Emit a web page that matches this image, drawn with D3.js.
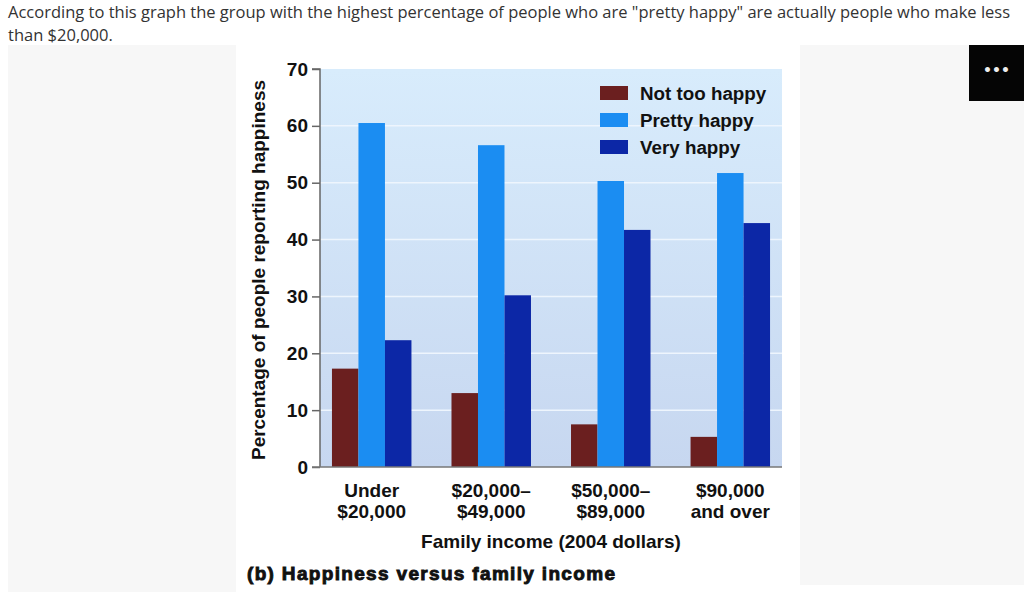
<!DOCTYPE html>
<html>
<head>
<meta charset="utf-8">
<script src="https://cdn.jsdelivr.net/npm/d3@7"></script>
<style>
  body { margin: 0; background: #fff; width: 1024px; height: 614px; overflow: hidden; position: relative; }
  #caption { position: absolute; left: 8px; top: 0px; font-family: "Open Sans", sans-serif; font-size: 16.5px; line-height: 23px; color: #333; white-space: nowrap; }
  .panel { position: absolute; background: #f7f7f7; }
  #more { position: absolute; left: 969px; top: 45px; width: 55px; height: 56px; background: #050505; color: #eee; font: bold 14px "DejaVu Sans", sans-serif; text-align: center; line-height: 50px; }
  svg { position: absolute; left: 0; top: 0; }
</style>
</head>
<body>
<div id="caption">According to this graph the group with the highest percentage of people who are "pretty happy" are actually people who make less<br>than $20,000.</div>
<div class="panel" style="left:8px;top:45px;width:228px;height:547px"></div>
<div class="panel" style="left:800px;top:45px;width:224px;height:540px"></div>
<div id="more">•••</div>
<svg id="chart" width="1024" height="614"></svg>
<script>
// Income groups (two-line labels)
var groups = [['Under', '$20,000'], ['$20,000–', '$49,000'], ['$50,000–', '$89,000'], ['$90,000', 'and over']];

// Happiness series (percent)
var series = ['Not too happy', 'Pretty happy', 'Very happy'];
var notTooHappy = [17.3, 13.0, 7.5, 5.3];
var prettyHappy = [60.5, 56.6, 50.3, 51.7];
var veryHappy = [22.3, 30.2, 41.7, 42.9];

var yTicks = [0, 10, 20, 30, 40, 50, 60, 70];

var colors = ['#6b1f1f', '#1b8df2', '#0c27a6'];
var values = [notTooHappy, prettyHappy, veryHappy];

var svg = d3.select('#chart');
var font = '"Liberation Sans", Arial, sans-serif';

// white picture area
svg.append('rect').attr('x', 236).attr('y', 45).attr('width', 564).attr('height', 548).attr('fill', '#fff');

var y = d3.scaleLinear().domain([0, 70]).range([467, 69]);
var x0 = d3.scaleBand().domain(d3.range(groups.length)).range([312, 790]).paddingInner(0.335).paddingOuter(0.167);
var x1 = d3.scaleBand().domain(d3.range(series.length)).range([0, x0.bandwidth()]);

// plot background gradient
var defs = svg.append('defs');
var grad = defs.append('linearGradient').attr('id', 'bg').attr('x1', 0).attr('y1', 0).attr('x2', 0).attr('y2', 1);
grad.append('stop').attr('offset', '0%').attr('stop-color', '#d8ecfc');
grad.append('stop').attr('offset', '100%').attr('stop-color', '#c7d7f0');

svg.append('rect')
  .attr('x', 320).attr('y', y(70))
  .attr('width', 462).attr('height', y(0) - y(70))
  .attr('fill', 'url(#bg)');

// gridlines
svg.append('g').selectAll('line').data(yTicks.slice(1, -1)).enter()
  .append('line')
  .attr('x1', 320).attr('x2', 782)
  .attr('y1', function(d) { return y(d); })
  .attr('y2', function(d) { return y(d); })
  .attr('stroke', '#eef5fd').attr('stroke-width', 1.5);

// bars
var g = svg.append('g').selectAll('g').data(groups).enter()
  .append('g')
  .attr('transform', function(d, i) { return 'translate(' + x0(i) + ',0)'; });

g.selectAll('rect').data(function(d, i) { return values.map(function(v) { return v[i]; }); })
  .enter().append('rect')
  .attr('x', function(d, j) { return x1(j); })
  .attr('width', x1.bandwidth())
  .attr('y', function(d) { return y(d); })
  .attr('height', function(d) { return y(0) - y(d); })
  .attr('fill', function(d, j) { return colors[j]; });

// y axis
var yAxis = svg.append('g').attr('transform', 'translate(320,0)')
  .call(d3.axisLeft(y).tickValues(yTicks).tickSize(8).tickPadding(4));
yAxis.select('.domain').attr('stroke', '#666').attr('stroke-width', 1.5).attr('d', 'M-8,' + y(70) + 'H0V' + y(0));
yAxis.selectAll('.tick line').attr('stroke', '#666').attr('stroke-width', 1.5);
yAxis.selectAll('.tick text').attr('fill', '#111').style('font', 'bold 19px ' + font);

// x axis line
svg.append('line').attr('x1', 312).attr('x2', 782).attr('y1', y(0)).attr('y2', y(0))
  .attr('stroke', '#777').attr('stroke-width', 1.5);

// x labels
var xl = svg.append('g').selectAll('text').data(groups).enter()
  .append('text')
  .attr('text-anchor', 'middle')
  .attr('x', function(d, i) { return x0(i) + x0.bandwidth() / 2; })
  .attr('y', 497)
  .attr('fill', '#111')
  .style('font', 'bold 19px ' + font);
xl.selectAll('tspan').data(function(d) { return d; }).enter()
  .append('tspan')
  .attr('x', function() { return d3.select(this.parentNode).attr('x'); })
  .attr('dy', function(d, k) { return k ? 21 : 0; })
  .text(function(d) { return d; });

svg.append('text').attr('x', 551).attr('y', 548).attr('text-anchor', 'middle')
  .attr('fill', '#111').style('font', 'bold 19px ' + font)
  .text('Family income (2004 dollars)');

// y title
svg.append('text')
  .attr('transform', 'translate(265,270) rotate(-90)')
  .attr('text-anchor', 'middle')
  .attr('fill', '#111').style('font', 'bold 19px ' + font)
  .text('Percentage of people reporting happiness');

// panel caption
svg.append('text').attr('x', 247).attr('y', 580)
  .attr('fill', '#111').attr('stroke', '#111').attr('stroke-width', 0.9)
  .attr('textLength', 368).attr('lengthAdjust', 'spacing')
  .style('font', 'bold 19px ' + font)
  .text('(b) Happiness versus family income');

// legend
var leg = svg.append('g').selectAll('g').data(series).enter()
  .append('g')
  .attr('transform', function(d, i) { return 'translate(600,' + (86 + i * 27) + ')'; });
leg.append('rect').attr('width', 28).attr('height', 14)
  .attr('fill', function(d, i) { return colors[i]; });
leg.append('text').attr('x', 40).attr('y', 14)
  .attr('fill', '#111').style('font', 'bold 18.8px ' + font)
  .text(function(d) { return d; });
</script>
</body>
</html>
